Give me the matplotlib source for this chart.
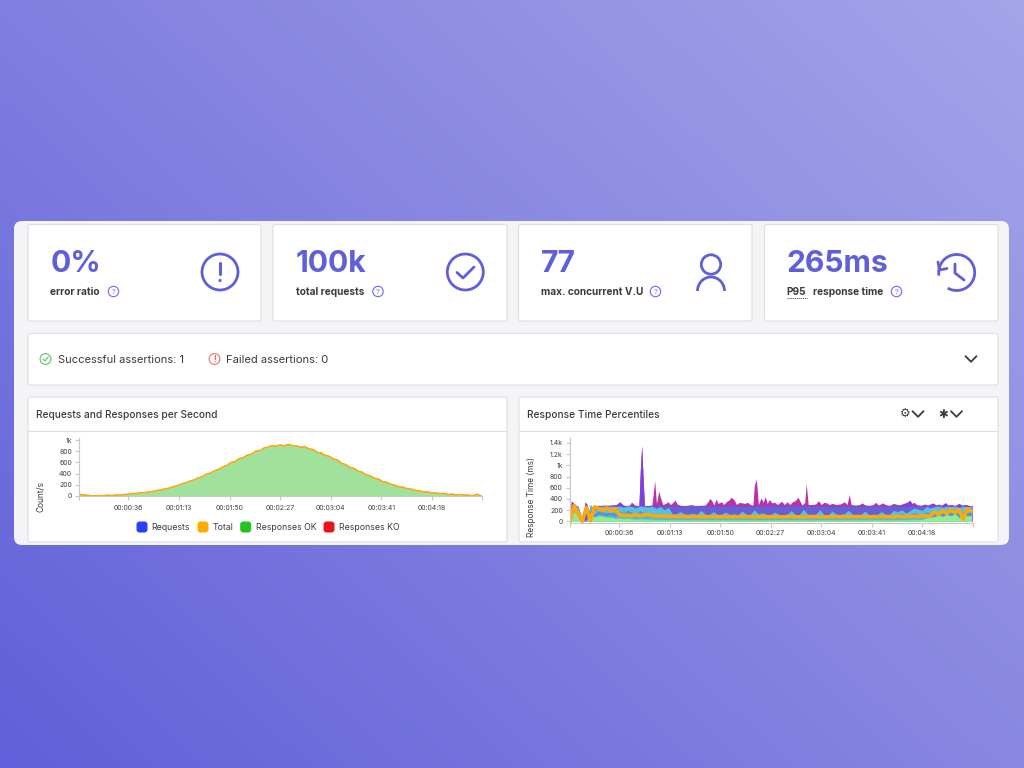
import numpy as np
import matplotlib
matplotlib.use('Agg')
import matplotlib.pyplot as plt
from matplotlib.patches import FancyBboxPatch, Circle, Arc
from matplotlib.colors import LinearSegmentedColormap

plt.rcParams['font.family'] = ['Inter', 'DejaVu Sans']

# values, one sample every 3 seconds
time_s = list(range(0, 297, 3))

total_per_s = [32, 20, 14, 4, 3, 8, 7, 16, 10, 20,
               17, 27, 33, 42, 45, 58, 60, 75, 82, 100,
               110, 128, 142, 168, 187, 218, 236, 268, 287, 324,
               346, 390, 410, 450, 476, 520, 545, 596, 618, 668,
               684, 732, 748, 800, 808, 855, 872, 900, 888, 912,
               895, 925, 900, 895, 872, 882, 842, 832, 782, 768,
               726, 708, 662, 646, 582, 562, 512, 496, 448, 426,
               378, 362, 318, 300, 260, 245, 210, 195, 165, 155,
               130, 122, 100, 95, 74, 72, 56, 55, 44, 43,
               28, 34, 20, 27, 16, 15, 5, 32, 3]
requests_per_s = total_per_s
ok_per_s = total_per_s

# the max and p99 spikes are narrow, so they keep their own sample times
max_time_s = [0, 1, 2.5, 4, 6, 8, 9.5, 11, 12.5, 14, 16, 18, 22, 25, 27, 30, 33, 35, 36, 37.5,
              39, 42, 44, 45, 46.5, 48, 50.5, 51.5, 52.5, 53.5, 54.5, 57, 60, 61, 62, 63.3, 64, 65, 66.3, 68,
              70, 72, 73.5, 75, 77, 78.5, 81, 84, 87, 89, 91, 95, 99, 101, 102.5, 104, 105.5, 107, 108.5, 111,
              112.5, 115, 116.5, 118, 120, 122, 124, 126, 128, 130, 132, 134, 135, 136.5, 138, 140, 141.5, 143, 144.5, 146,
              148, 150, 152, 155, 157, 159, 161, 163, 165, 167, 170, 172, 173, 174.5, 177, 180, 182, 184, 186, 188,
              190, 192, 195, 198, 201, 203, 204.5, 206, 209, 212, 214, 216, 219, 222, 224, 226, 229, 231, 234, 237,
              240, 243, 246, 249, 250.5, 252, 254, 257, 260, 262, 266, 268, 270, 272, 275, 277, 279, 282, 285, 287,
              290, 292, 294.5]
max_ms = [0, 360, 320, 300, 60, 20, 60, 340, 300, 120, 240, 285, 280, 290, 285, 280, 290, 320, 350, 330,
          290, 282, 300, 345, 310, 285, 285, 900, 1350, 800, 285, 282, 295, 500, 730, 320, 400, 540, 420, 300,
          320, 350, 300, 330, 380, 310, 285, 282, 290, 300, 285, 285, 290, 350, 410, 360, 290, 400, 320, 350,
          300, 360, 380, 430, 390, 300, 340, 330, 320, 340, 300, 290, 640, 750, 300, 420, 340, 440, 320, 390,
          330, 340, 300, 360, 300, 350, 300, 350, 370, 430, 290, 340, 680, 300, 300, 310, 370, 300, 340, 330,
          300, 320, 300, 310, 350, 300, 480, 300, 290, 300, 330, 295, 285, 300, 340, 290, 330, 300, 285, 320,
          300, 285, 320, 380, 320, 340, 300, 285, 310, 290, 330, 290, 310, 285, 335, 290, 300, 285, 320, 290,
          300, 285, 280]
p99_time_s = [0, 1, 2.5, 4, 6, 8, 9.5, 11, 12.5, 14, 16, 18, 25, 35, 36, 37.5, 39, 50.5, 51.5, 52.5,
              53.5, 54.5, 240, 249, 250.5, 252, 262, 266, 268, 270, 272, 275, 277, 279, 282, 285, 287, 290, 292, 294.5]
p99_ms = [0, 365, 325, 300, 60, 20, 60, 345, 300, 120, 240, 285, 285, 300, 335, 310, 282, 282, 900, 1350,
          800, 282, 282, 360, 310, 285, 285, 320, 285, 300, 282, 325, 285, 295, 282, 315, 285, 300, 282, 278]

p95_ms = [0, 300, 270, 30, 25, 300, 200, 270, 275, 270,
          272, 270, 275, 272, 275, 270, 272, 275, 270, 272,
          275, 272, 275, 272, 275, 270, 275, 272, 275, 270,
          275, 272, 275, 270, 275, 272, 275, 270, 275, 272,
          275, 270, 275, 272, 275, 270, 275, 272, 275, 270,
          275, 272, 275, 270, 275, 272, 275, 270, 275, 272,
          275, 270, 275, 272, 275, 270, 275, 272, 275, 270,
          275, 272, 275, 270, 275, 272, 275, 270, 275, 272,
          275, 272, 270, 275, 272, 275, 270, 275, 272, 275,
          275, 270, 275, 272, 275, 270, 275, 272, 270]
p90_ms = [0, 280, 250, 25, 20, 290, 190, 265, 272, 268,
          270, 262, 274, 250, 274, 268, 238, 274, 270, 252,
          270, 228, 264, 205, 248, 132, 138, 175, 128, 132,
          145, 126, 195, 130, 122, 175, 125, 130, 165, 125,
          135, 120, 185, 130, 125, 205, 130, 155, 125, 120,
          165, 125, 120, 130, 190, 125, 120, 215, 130, 125,
          130, 205, 125, 120, 185, 130, 125, 140, 195, 125,
          130, 125, 180, 120, 130, 125, 175, 130, 125, 195,
          170, 205, 150, 190, 238, 215, 195, 265, 238, 262,
          274, 250, 270, 262, 275, 245, 270, 262, 272]
p75_ms = [0, 200, 170, 15, 10, 220, 130, 190, 170, 150,
          170, 140, 180, 150, 200, 160, 120, 190, 150, 130,
          150, 110, 130, 105, 120, 100, 105, 115, 100, 105,
          105, 100, 115, 100, 105, 110, 100, 105, 110, 100,
          105, 100, 110, 105, 100, 120, 105, 110, 100, 100,
          110, 100, 105, 100, 115, 100, 105, 120, 100, 105,
          100, 115, 105, 100, 110, 105, 100, 105, 115, 100,
          105, 100, 110, 100, 105, 100, 110, 105, 100, 115,
          120, 140, 110, 115, 160, 130, 120, 170, 140, 150,
          180, 140, 170, 150, 190, 130, 170, 150, 180]
p50_ms = [0, 180, 130, 10, 5, 150, 90, 125, 110, 100,
          110, 90, 120, 95, 110, 100, 75, 105, 90, 80,
          85, 70, 75, 65, 70, 60, 65, 70, 60, 65,
          60, 58, 62, 60, 58, 60, 62, 58, 60, 60,
          60, 58, 62, 60, 58, 60, 62, 58, 60, 60,
          58, 60, 62, 60, 58, 60, 62, 58, 60, 60,
          60, 62, 58, 60, 60, 58, 62, 60, 58, 60,
          60, 58, 62, 60, 58, 60, 62, 58, 60, 60,
          62, 70, 65, 70, 85, 75, 70, 95, 80, 85,
          125, 95, 135, 105, 145, 80, 135, 105, 115]
p25_ms = [0, 175, 115, 5, 3, 125, 75, 105, 95, 75,
          75, 55, 65, 50, 60, 50, 40, 50, 45, 40,
          40, 35, 35, 32, 32, 30, 30, 30, 30, 30,
          30, 30, 31, 30, 30, 30, 31, 30, 30, 30,
          30, 31, 30, 30, 30, 31, 30, 30, 30, 30,
          30, 30, 31, 30, 30, 30, 31, 30, 30, 30,
          30, 31, 30, 30, 30, 31, 30, 30, 30, 30,
          30, 30, 31, 30, 30, 30, 31, 30, 30, 30,
          30, 32, 30, 35, 40, 36, 35, 45, 40, 42,
          115, 85, 125, 95, 135, 65, 125, 95, 105]
p10_ms = [0, 170, 110, 5, 3, 120, 70, 100, 90, 70,
          70, 50, 60, 45, 50, 40, 30, 25, 22, 20,
          18, 16, 15, 15, 15, 15, 14, 15, 15, 14,
          15, 15, 14, 15, 15, 14, 15, 15, 14, 15,
          15, 14, 15, 15, 14, 15, 15, 14, 15, 15,
          14, 15, 15, 14, 15, 15, 14, 15, 15, 14,
          15, 15, 14, 15, 15, 14, 15, 15, 14, 15,
          15, 14, 15, 15, 14, 15, 15, 14, 15, 15,
          15, 16, 18, 20, 25, 30, 35, 60, 70, 85,
          110, 80, 120, 90, 130, 60, 120, 90, 100]
mean_ms = [0, 280, 130, 0, 250, 10, 260, 230, 190, 240,
           180, 230, 120, 105, 110, 100, 115, 105, 110, 120,
           100, 95, 95, 90, 90, 85, 85, 85, 85, 80,
           80, 82, 80, 80, 82, 80, 80, 78, 80, 80,
           78, 80, 80, 82, 80, 78, 80, 80, 82, 80,
           80, 78, 80, 80, 82, 80, 80, 78, 80, 82,
           80, 80, 78, 80, 80, 82, 80, 80, 78, 80,
           80, 82, 80, 78, 80, 80, 82, 80, 80, 78,
           85, 85, 85, 90, 90, 90, 95, 95, 95, 170,
           120, 190, 140, 210, 150, 210, 40, 220, 180]

tick_s = [0, 36, 73, 110, 147, 184, 221, 258, 295]
tick_labels = ['', '00:00:36', '00:01:13', '00:01:50', '00:02:27', '00:03:04', '00:03:41', '00:04:18', '']
left_yticks = [0, 200, 400, 600, 800, 1000]
left_ylabels = ['0', '200', '400', '600', '800', '1k']
right_yticks = [0, 200, 400, 600, 800, 1000, 1200, 1400]
right_ylabels = ['0', '200', '400', '600', '800', '1k', '1.2k', '1.4k']

legend_names = ['Requests', 'Total', 'Responses OK', 'Responses KO']
legend_colors = ['#2a40f5', '#ffab00', '#22c422', '#e8121e']

INDIGO = '#5f5fd8'
DARK = '#3a3a42'
GREY = '#dedee3'
TICK = '#3f3f46'

fig = plt.figure(figsize=(10.24, 7.68), dpi=100)

# page layer in pixel coordinates
ui = fig.add_axes([0, 0, 1, 1], zorder=0)
ui.set_xlim(0, 1024)
ui.set_ylim(768, 0)
ui.axis('off')

gx, gy = np.meshgrid(np.linspace(0, 1, 256), np.linspace(0, 1, 192))
grad = gx * 0.56 + (1 - gy) * 0.44
cmap = LinearSegmentedColormap.from_list('bg', ['#6060da', '#8583e0', '#a4a4e9'])
ui.imshow(grad, extent=(0, 1024, 768, 0), cmap=cmap, aspect='auto', interpolation='bilinear', zorder=0)


def box(x0, y0, x1, y1, r=2, fc='white', ec=GREY, lw=0.8, z=2):
    ui.add_patch(FancyBboxPatch((x0 + r, y0 + r), x1 - x0 - 2 * r, y1 - y0 - 2 * r,
                                boxstyle='round,pad=%f,rounding_size=%f' % (r, r),
                                fc=fc, ec=ec, lw=lw, zorder=z))


def question(cx, cy):
    ui.add_patch(Circle((cx, cy), 5.2, fill=False, ec='#6b6bf0', lw=0.8, zorder=4))
    ui.text(cx, cy + 0.2, '?', color='#6b6bf0', fontsize=5.6, ha='center', va='center', zorder=4)


def chevron(cx, cy, w, h, color=DARK, lw=1.3):
    ui.plot([cx - w, cx, cx + w], [cy - h, cy + h, cy - h], color=color, lw=lw, zorder=4,
            solid_capstyle='round', solid_joinstyle='round')


box(14, 221, 1009, 545, r=8, fc='#f4f4f7', ec='none', lw=0)

stat_x = [(28, 261), (273, 507), (518.5, 752), (764.5, 998)]
stat_values = ['0%', '100k', '77', '265ms']
stat_labels = ['error ratio', 'total requests', 'max. concurrent V.U', 'response time']
stat_text_x = [50.5, 296, 541, 786.5]
help_x = [113.5, 378, 655.5, 896.5]
for i in range(4):
    box(stat_x[i][0], 224.5, stat_x[i][1], 321)
    ui.text(stat_text_x[i], 272.5, stat_values[i], color=INDIGO, fontsize=21.6, fontweight='bold',
            ha='left', va='baseline', zorder=4)
    lx = stat_text_x[i] if i < 3 else 813
    ui.text(lx, 295.3, stat_labels[i], color=DARK, fontsize=7.3, fontweight='bold',
            ha='left', va='baseline', zorder=4)
    question(help_x[i], 291.5)
ui.text(786.5, 295.3, 'P95', color=DARK, fontsize=7.3, fontweight='bold', ha='left', va='baseline', zorder=4)
ui.plot([786.5, 807], [297.5, 297.5], color=DARK, lw=0.7, ls=(0, (1, 1)), zorder=4)

# stat icons
ui.add_patch(Circle((220, 272), 18, fill=False, ec=INDIGO, lw=2, zorder=4))
ui.plot([220, 220], [262.5, 274], color=INDIGO, lw=2.2, zorder=4, solid_capstyle='round')
ui.add_patch(Circle((220, 280.5), 1.6, fc=INDIGO, ec='none', zorder=4))

ui.add_patch(Circle((465.3, 272), 18, fill=False, ec=INDIGO, lw=2, zorder=4))
ui.plot([457, 463, 474], [272.5, 278, 267], color=INDIGO, lw=2, zorder=4,
        solid_capstyle='round', solid_joinstyle='round')

ui.add_patch(Circle((711, 264.5), 9.7, fill=False, ec=INDIGO, lw=2, zorder=4))
ui.add_patch(Arc((711, 291), 27, 28, theta1=180, theta2=360, ec=INDIGO, lw=2, zorder=4))

ui.add_patch(Arc((956.7, 272.5), 36, 36, theta1=-190, theta2=120, ec=INDIGO, lw=2, zorder=4))
ui.plot([938, 939.5, 947], [262, 270, 268.5], color=INDIGO, lw=2, zorder=4,
        solid_capstyle='round', solid_joinstyle='round')
ui.plot([955, 955, 964], [264, 273, 280], color=INDIGO, lw=2, zorder=4,
        solid_capstyle='round', solid_joinstyle='round')

# assertions row
box(28, 333.5, 998, 385)
ui.add_patch(Circle((45.5, 359), 5.4, fill=False, ec='#5cc060', lw=0.8, zorder=4))
ui.plot([43, 45, 48.2], [359, 361, 357], color='#5cc060', lw=0.8, zorder=4)
ui.text(57.5, 363, 'Successful assertions: 1', color=DARK, fontsize=8.05, ha='left', va='baseline', zorder=4)
ui.add_patch(Circle((214.5, 359), 5.4, fill=False, ec='#ee6c6c', lw=0.8, zorder=4))
ui.text(214.5, 359, '!', color='#ee6c6c', fontsize=6, fontweight='bold', ha='center', va='center', zorder=4)
ui.text(226.5, 363, 'Failed assertions: 0', color=DARK, fontsize=8.05, ha='left', va='baseline', zorder=4)
chevron(971, 359, 5.5, 2.8)

# chart cards
for x0, x1, title, tx in [(28, 507, 'Requests and Responses per Second', 36),
                          (519, 998, 'Response Time Percentiles', 527)]:
    box(x0, 397, x1, 542)
    ui.plot([x0, x1], [430.5, 430.5], color=GREY, lw=0.8, zorder=3)
    ui.text(tx, 417.5, title, color=DARK, fontsize=7.3, fontweight='medium', ha='left', va='baseline', zorder=4)

ui.text(905, 413.5, '\u2699', color=DARK, fontsize=8.5, ha='center', va='center', family='DejaVu Sans', zorder=4)
chevron(918, 414, 5.5, 2.8)
ui.text(943, 414, '\u2731', color=DARK, fontsize=8.5, ha='center', va='center', family='DejaVu Sans', zorder=4)
chevron(956.5, 414, 5.5, 2.8)

# legend under the left chart
swatch_x = [142, 203, 245.7, 329]
label_x = [151.7, 213, 255.7, 338.7]
for name, color, sx, lx in zip(legend_names, legend_colors, swatch_x, label_x):
    box(sx - 5.5, 521.5, sx + 5.5, 532.5, r=3, fc=color, ec='none', lw=0, z=4)
    ui.text(lx, 527, name, color=DARK, fontsize=6.3, ha='left', va='center', zorder=4)

ui.text(41, 497, 'Count/s', color=DARK, fontsize=6.0, rotation=90, ha='center', va='center', zorder=4)
ui.text(532, 497, 'Response Time (ms)', color=DARK, fontsize=6.0, rotation=90, ha='center', va='center', zorder=4)


def px_axes(x0, x1, ytop, ybottom):
    return fig.add_axes([x0 / 1024, 1 - ybottom / 768, (x1 - x0) / 1024, (ybottom - ytop) / 768],
                        zorder=2, facecolor='none')


def style(ax, yticks, ylabels, xpad):
    for s in ['top', 'right']:
        ax.spines[s].set_visible(False)
    for s in ['left', 'bottom']:
        ax.spines[s].set_color('#c8c8cc')
        ax.spines[s].set_linewidth(0.8)
    ax.set_xticks(tick_s)
    ax.set_xticklabels(tick_labels)
    ax.set_yticks(yticks)
    ax.set_yticklabels(ylabels)
    ax.tick_params(axis='both', labelsize=5.0, labelcolor=TICK, color='#c8c8cc', length=3.2, width=0.8, pad=2)
    ax.tick_params(axis='x', pad=xpad)


# left chart
ax1 = px_axes(79.3, 482.3, 438, 496)
ax1.set_xlim(0, 294.5)
ax1.set_ylim(0, 1036)
ax1.plot(time_s, requests_per_s, color=legend_colors[0], lw=0.4)
ax1.fill_between(time_s, ok_per_s, color='#a0e29b', lw=0)
ax1.plot(time_s, total_per_s, color='#ffa908', lw=1.1)
style(ax1, left_yticks, left_ylabels, 3)

# right chart
ax2 = px_axes(570, 972.7, 438, 523)
ax2.set_xlim(0, 294.5)
ax2.set_ylim(-30, 1489)
ax2.fill_between(max_time_s, max_ms, color='#b733a8', lw=0)
ax2.fill_between(p99_time_s, p99_ms, color='#7f3fe0', lw=0)
layers = [(p95_ms, '#6a5fd2'), (p90_ms, '#55c2e2'),
          (p75_ms, '#5b8edb'), (p50_ms, '#50bfca'), (p25_ms, '#72dcb2'), (p10_ms, '#92ea92')]
for values, color in layers:
    ax2.fill_between(time_s, values, color=color, lw=0)
ax2.plot(time_s, mean_ms, color='#ffa908', lw=2.6, solid_joinstyle='round')
style(ax2, right_yticks, right_ylabels, 2)

fig.savefig('out.png', dpi=100)
